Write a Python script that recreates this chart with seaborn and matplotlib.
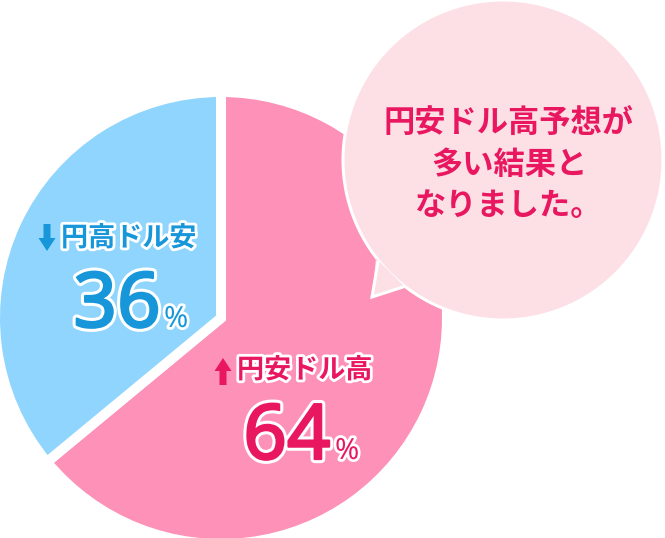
import seaborn as sns
import matplotlib.pyplot as plt
import matplotlib.patheffects as pe
from matplotlib.patches import Circle, Polygon, FancyArrow

sns.set_style("white")
plt.rcParams['font.family'] = ['Noto Sans CJK JP', 'DejaVu Sans']

# Data
labels = ["円安ドル高", "円高ドル安"]
shares = [64, 36]
slice_colors = ["#fd91b7", "#8fd5fd"]
text_colors = ["#e8175f", "#1797da"]
bubble_lines = ["円安ドル高予想が", "多い結果と", "なりました。"]

W, H = 665, 538


def Y(y):
    # pixel row -> data y (axes run bottom-up)
    return H - y


fig = plt.figure(figsize=(W / 100, H / 100), dpi=100)
ax = fig.add_axes([0, 0, 1, 1])

# pie: pink from the top going clockwise, white gap between slices
ax.pie(shares, colors=slice_colors, startangle=90, counterclock=False,
       center=(221, Y(318)), radius=226,
       wedgeprops=dict(edgecolor="white", linewidth=7.2))

# speech bubble on top of the pie
bubble = Circle((503, Y(160)), 160, facecolor="#fddfe6", edgecolor="white",
                linewidth=2.2, zorder=5)
ax.add_patch(bubble)
tail = Polygon([(376, Y(258)), (372, Y(297)), (405, Y(287))], closed=True,
               facecolor="#fddfe6", edgecolor="none", zorder=6)
ax.add_patch(tail)
ax.plot([378, 372, 403], [Y(262), Y(297), Y(287)], color="white", lw=2.2,
        zorder=6, solid_joinstyle="miter")

for i, line in enumerate(bubble_lines):
    ax.text(509, Y(124 + i * 41), line, ha="center", va="center",
            fontsize=22.5, fontweight="bold", color=text_colors[0], zorder=7)

outline = [pe.withStroke(linewidth=4, foreground="white")]
num_font = ["Noto Sans", "DejaVu Sans"]


def num_outline(c):
    # white halo, then a thin stroke in the text colour to thicken the digits
    return [pe.Stroke(linewidth=6, foreground="white"),
            pe.Stroke(linewidth=1.6, foreground=c), pe.Normal()]


# blue label (down arrow)
ax.add_patch(FancyArrow(47, Y(224), 0, -27, width=7, head_width=17,
                        head_length=13, length_includes_head=True,
                        color=text_colors[1], lw=0, zorder=4))
ax.text(61, Y(238), labels[1], ha="left", va="center", fontsize=19.5,
        fontweight="bold", color=text_colors[1], path_effects=outline, zorder=4)
ax.text(117, Y(327), f"{shares[1]}", ha="center", va="baseline", fontsize=55,
        family=num_font, color=text_colors[1],
        path_effects=num_outline(text_colors[1]), zorder=4)
ax.text(164, Y(327), "%", ha="left", va="baseline", fontsize=21,
        family=num_font, color=text_colors[1],
        path_effects=outline, zorder=4)

# pink label (up arrow)
ax.add_patch(FancyArrow(223, Y(385), 0, 27, width=7, head_width=17,
                        head_length=13, length_includes_head=True,
                        color=text_colors[0], lw=0, zorder=4))
ax.text(237, Y(370), labels[0], ha="left", va="center", fontsize=19.5,
        fontweight="bold", color=text_colors[0], path_effects=outline, zorder=4)
ax.text(287, Y(459), f"{shares[0]}", ha="center", va="baseline", fontsize=55,
        family=num_font, color=text_colors[0],
        path_effects=num_outline(text_colors[0]), zorder=4)
ax.text(335, Y(459), "%", ha="left", va="baseline", fontsize=21,
        family=num_font, color=text_colors[0],
        path_effects=outline, zorder=4)

ax.set_xlim(0, W)
ax.set_ylim(0, H)
ax.set_aspect("auto")
ax.axis("off")

plt.savefig("out.png", dpi=100, facecolor="white")
